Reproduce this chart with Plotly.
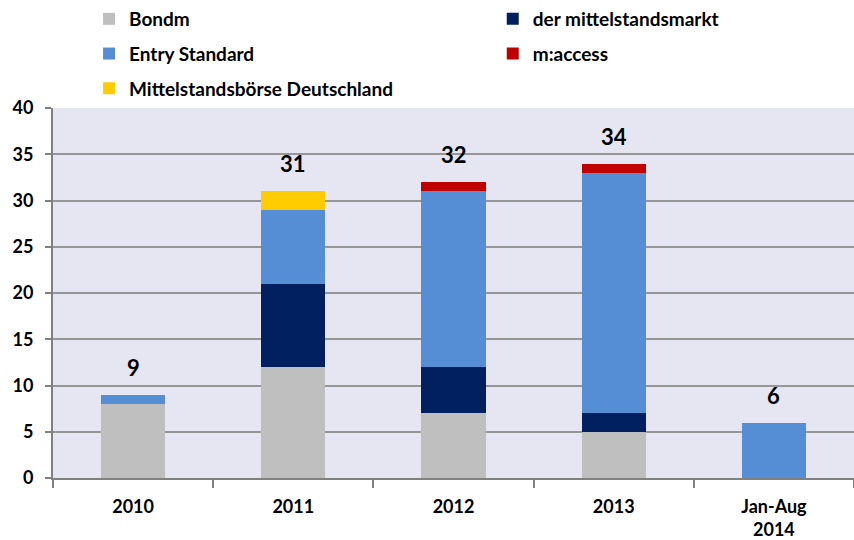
import plotly.graph_objects as go

categories = ["2010", "2011", "2012", "2013", "Jan-Aug<br>2014"]
bondm = [8, 12, 7, 5, 0]
der_mittelstandsmarkt = [0, 9, 5, 2, 0]
entry_standard = [1, 8, 19, 26, 6]
m_access = [0, 0, 1, 1, 0]
msd = [0, 2, 0, 0, 0]
totals = [9, 31, 32, 34, 6]

series = [
    ("Bondm", bondm, "#BFBFBF", "legend"),
    ("der mittelstandsmarkt", der_mittelstandsmarkt, "#002060", "legend2"),
    ("Entry Standard", entry_standard, "#558ED5", "legend"),
    ("m:access", m_access, "#C00000", "legend2"),
    ("Mittelstandsbörse Deutschland", msd, "#FFCC00", "legend"),
]

FONT = "Lato"

fig = go.Figure()
for name, vals, col, lg in series:
    fig.add_trace(go.Bar(
        x=categories, y=vals, name=name,
        marker=dict(color=col, line=dict(width=0)),
        width=0.4, legend=lg, legendgroup=name,
    ))

for i, t in enumerate(totals):
    fig.add_annotation(x=i, y=t, text=f"<b>{t}</b>", showarrow=False,
                       yanchor="bottom", yshift=12,
                       font=dict(family=FONT, size=22, color="black"))

legend_common = dict(
    orientation="v", yref="paper", y=1.2919, yanchor="top", xanchor="left",
    font=dict(family=FONT, size=19, color="black", weight="bold"),
    itemwidth=30, traceorder="grouped", tracegroupgap=7,
    bgcolor="rgba(0,0,0,0)",
)

fig.update_layout(
    barmode="stack",
    width=854, height=540,
    margin=dict(l=53, r=0, t=108, b=62, autoexpand=False),
    paper_bgcolor="white",
    plot_bgcolor="#E6E6F2",
    font=dict(family=FONT, size=18, color="black"),
    legend=dict(x=0.045, **legend_common),
    legend2=dict(x=0.549, **legend_common),
    showlegend=True,
)
fig.update_xaxes(
    type="category", range=[-0.5, 4.5], automargin=False,
    showline=True, linecolor="#808080", linewidth=2,
    ticks="outside", tickson="boundaries", ticklen=8, tickcolor="#808080", tickwidth=2,
    tickfont=dict(family=FONT, size=18, weight="bold"),
    ticklabelstandoff=11,
    showgrid=False,
)
fig.update_yaxes(
    range=[0, 40], dtick=5, automargin=False,
    showline=True, linecolor="#808080", linewidth=2,
    ticks="outside", ticklen=6, tickcolor="#808080", tickwidth=2,
    gridcolor="#969696", gridwidth=2,
    tickfont=dict(family=FONT, size=18, weight="bold"),
    ticklabelstandoff=8,
    zeroline=False,
)

fig.write_html("out.html", config={"displayModeBar": False},
               post_script="document.body.style.margin='0';document.body.style.overflow='hidden';")
